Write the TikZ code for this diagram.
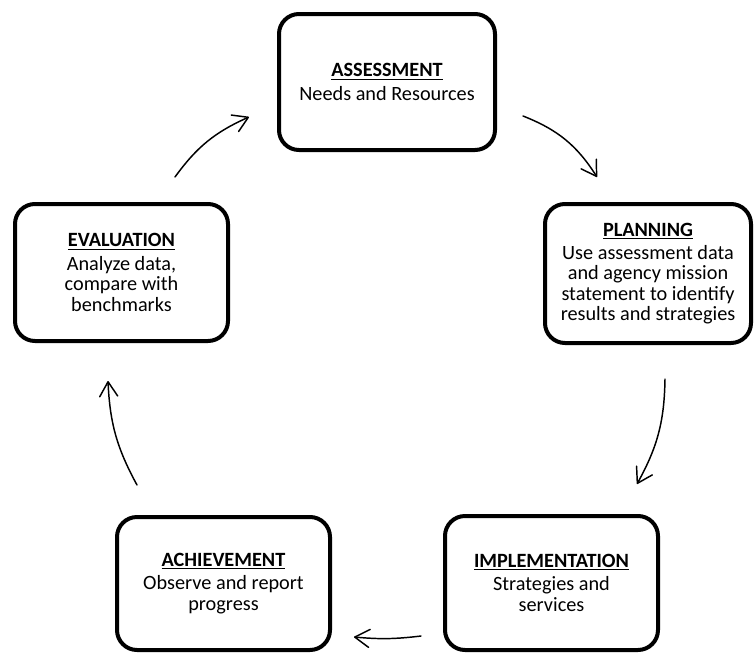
\documentclass[tikz,border=0pt]{standalone}
\usepackage{fontspec}
\setmainfont{Carlito}
\usetikzlibrary{arrows.meta}
\newcommand{\stagetitle}[1]{\underline{\textbf{#1}}}
\begin{document}
\begin{tikzpicture}[x=0.75pt,y=0.75pt,
  stagebox/.style={draw=black, line width=3pt, rounded corners=15pt, fill=white,
    align=center, inner sep=0pt, font=\fontsize{15.2}{15.4}\selectfont},
  flowarrow/.style={line width=1.1pt, line cap=round, line join=round,
    -{Straight Barb[length=11pt,width=13.5pt,line join=round,line cap=round]}}
]
\useasboundingbox (0,0) rectangle (754,-654);
\node[stagebox, minimum width=162pt, minimum height=102pt] (assess) at (387,-82)
  {\stagetitle{ASSESSMENT}\\[2pt]Needs and Resources};
\node[stagebox, minimum width=154.5pt, minimum height=104.25pt] (plan) at (648,-273.5)
  {\stagetitle{PLANNING}\\[2pt]Use assessment data\\and agency mission\\statement to identify\\results and strategies};
\node[stagebox, minimum width=159.75pt, minimum height=102.75pt] (evalu) at (121.5,-272.5)
  {\stagetitle{EVALUATION}\\[2pt]Analyze data,\\compare with\\benchmarks};
\node[stagebox, minimum width=159.75pt, minimum height=99.75pt] (achieve) at (223.5,-583.5)
  {\stagetitle{ACHIEVEMENT}\\[2pt]Observe and report\\progress};
\node[stagebox, minimum width=159.75pt, minimum height=100.5pt] (impl) at (551.5,-583)
  {\stagetitle{IMPLEMENTATION}\\[2pt]Strategies and\\services};

\coordinate (e1s) at (175,-177);
\coordinate (e1t) at (249,-117);
\coordinate (a2s) at (523,-116);
\coordinate (a2t) at (597,-177);
\coordinate (p3s) at (665,-379);
\coordinate (p3t) at (637,-484);
\coordinate (i4s) at (421,-636);
\coordinate (i4t) at (354,-637);
\coordinate (c5s) at (137,-485);
\coordinate (c5t) at (108,-381);

\draw[flowarrow] (e1s) to[bend left=15] (e1t);
\draw[flowarrow] (a2s) to[bend left=18] (a2t);
\draw[flowarrow] (p3s) to[bend left=14] (p3t);
\draw[flowarrow] (i4s) to[bend left=6] (i4t);
\draw[flowarrow] (c5s) to[bend left=13] (c5t);
\end{tikzpicture}
\end{document}
